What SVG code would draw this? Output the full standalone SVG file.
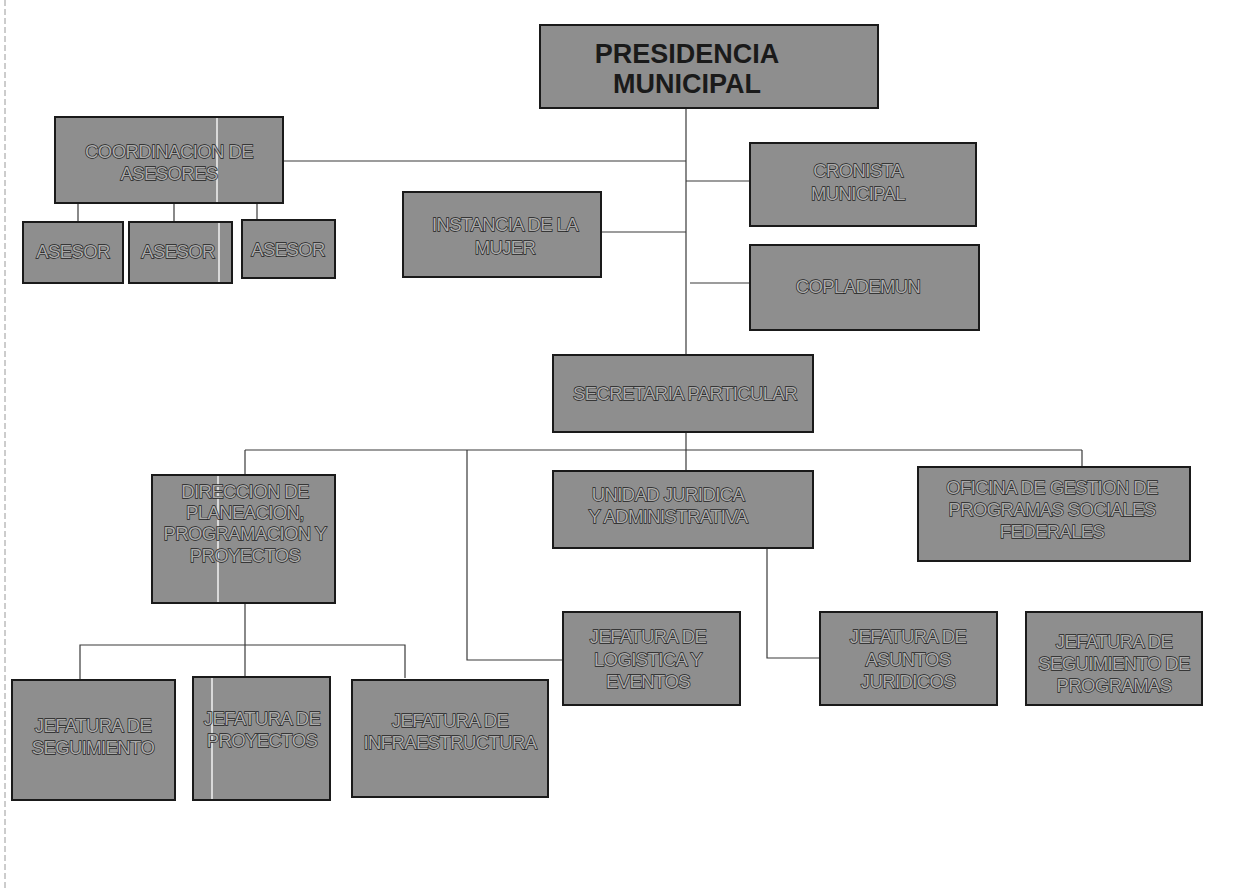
<svg xmlns="http://www.w3.org/2000/svg" width="1248" height="888" viewBox="0 0 1248 888">
<style>
.bx{fill:#8e8e8e;stroke:#1a1a1a;stroke-width:2}
.t{font-family:"Liberation Sans",Arial,sans-serif;font-size:18.5px;text-anchor:middle;fill:#ababab;stroke:#1e1e1e;stroke-width:1.3;paint-order:stroke;letter-spacing:-0.6px}
.tb{font-family:"Liberation Sans",Arial,sans-serif;font-size:27px;font-weight:bold;text-anchor:middle;fill:#1a1a1a}
.ln{fill:none;stroke:#3a3a3a;stroke-width:1.2}
.wl{stroke:#f2f2f2;stroke-width:1.5}
</style>
<rect width="1248" height="888" fill="#ffffff"/>
<line x1="5" y1="0" x2="5" y2="888" stroke="#9a9a9a" stroke-width="1" stroke-dasharray="6 3"/>
<g id="connectors">
<polyline class="ln" points="686,108 686,355"/>
<polyline class="ln" points="283,161 686,161"/>
<polyline class="ln" points="686,181 750,181"/>
<polyline class="ln" points="601,232 686,232"/>
<polyline class="ln" points="690,283 750,283"/>
<polyline class="ln" points="78,203 78,222"/>
<polyline class="ln" points="174,203 174,222"/>
<polyline class="ln" points="257,203 257,220"/>
<polyline class="ln" points="686,432 686,471"/>
<polyline class="ln" points="245,450 1082,450"/>
<polyline class="ln" points="245,450 245,475"/>
<polyline class="ln" points="1082,450 1082,467"/>
<polyline class="ln" points="467,450 467,660 563,660"/>
<polyline class="ln" points="767,548 767,658 820,658"/>
<polyline class="ln" points="245,603 245,677"/>
<polyline class="ln" points="80,680 80,645 405,645 405,678"/>
</g>
<g id="presidencia">
<rect class="bx" x="540" y="25" width="338" height="83"/>
<text class="tb" x="687" y="63">PRESIDENCIA</text>
<text class="tb" x="687" y="93">MUNICIPAL</text>
</g>
<g id="coordinacion">
<rect class="bx" x="55" y="117" width="228" height="86"/>
<line class="wl" x1="217" y1="118" x2="217" y2="202"/>
<text class="t" x="169" y="158">COORDINACION DE</text>
<text class="t" x="169" y="180">ASESORES</text>
</g>
<g id="asesor1">
<rect class="bx" x="23" y="222" width="100" height="61"/>
<text class="t" x="73" y="258">ASESOR</text>
</g>
<g id="asesor2">
<rect class="bx" x="129" y="222" width="103" height="61"/>
<line class="wl" x1="219" y1="223" x2="219" y2="282"/>
<text class="t" x="178" y="258">ASESOR</text>
</g>
<g id="asesor3">
<rect class="bx" x="242" y="220" width="93" height="58"/>
<text class="t" x="288" y="256">ASESOR</text>
</g>
<g id="instancia">
<rect class="bx" x="403" y="192" width="198" height="85"/>
<text class="t" x="505" y="231">INSTANCIA DE LA</text>
<text class="t" x="505" y="254">MUJER</text>
</g>
<g id="cronista">
<rect class="bx" x="750" y="143" width="226" height="83"/>
<text class="t" x="858" y="177">CRONISTA</text>
<text class="t" x="858" y="200">MUNICIPAL</text>
</g>
<g id="coplademun">
<rect class="bx" x="750" y="245" width="229" height="85"/>
<text class="t" x="858" y="293">COPLADEMUN</text>
</g>
<g id="secretaria">
<rect class="bx" x="553" y="355" width="260" height="77"/>
<text class="t" x="685" y="400">SECRETARIA PARTICULAR</text>
</g>
<g id="direccion">
<rect class="bx" x="152" y="475" width="183" height="128"/>
<line class="wl" x1="218" y1="476" x2="218" y2="602"/>
<text class="t" x="245" y="498">DIRECCION DE</text>
<text class="t" x="245" y="519">PLANEACION,</text>
<text class="t" x="245" y="540">PROGRAMACION Y</text>
<text class="t" x="245" y="562">PROYECTOS</text>
</g>
<g id="unidad">
<rect class="bx" x="553" y="471" width="260" height="77"/>
<text class="t" x="668" y="501">UNIDAD JURIDICA</text>
<text class="t" x="668" y="523">Y ADMINISTRATIVA</text>
</g>
<g id="oficina">
<rect class="bx" x="918" y="467" width="272" height="94"/>
<text class="t" x="1052" y="494">OFICINA DE GESTION DE</text>
<text class="t" x="1052" y="516">PROGRAMAS SOCIALES</text>
<text class="t" x="1052" y="538">FEDERALES</text>
</g>
<g id="logistica">
<rect class="bx" x="563" y="612" width="177" height="93"/>
<text class="t" x="648" y="643">JEFATURA DE</text>
<text class="t" x="648" y="666">LOGISTICA Y</text>
<text class="t" x="648" y="688">EVENTOS</text>
</g>
<g id="asuntos">
<rect class="bx" x="820" y="612" width="177" height="93"/>
<text class="t" x="908" y="643">JEFATURA DE</text>
<text class="t" x="908" y="666">ASUNTOS</text>
<text class="t" x="908" y="688">JURIDICOS</text>
</g>
<g id="seguimiento-programas">
<rect class="bx" x="1026" y="612" width="176" height="93"/>
<text class="t" x="1114" y="648">JEFATURA DE</text>
<text class="t" x="1114" y="670">SEGUIMIENTO DE</text>
<text class="t" x="1114" y="692">PROGRAMAS</text>
</g>
<g id="seguimiento">
<rect class="bx" x="12" y="680" width="163" height="120"/>
<text class="t" x="93" y="732">JEFATURA DE</text>
<text class="t" x="93" y="754">SEGUIMIENTO</text>
</g>
<g id="proyectos">
<rect class="bx" x="193" y="677" width="137" height="123"/>
<line class="wl" x1="212" y1="678" x2="212" y2="799"/>
<text class="t" x="262" y="725">JEFATURA DE</text>
<text class="t" x="262" y="747">PROYECTOS</text>
</g>
<g id="infraestructura">
<rect class="bx" x="352" y="680" width="196" height="117"/>
<text class="t" x="450" y="727">JEFATURA DE</text>
<text class="t" x="450" y="749">INFRAESTRUCTURA</text>
</g>
</svg>
